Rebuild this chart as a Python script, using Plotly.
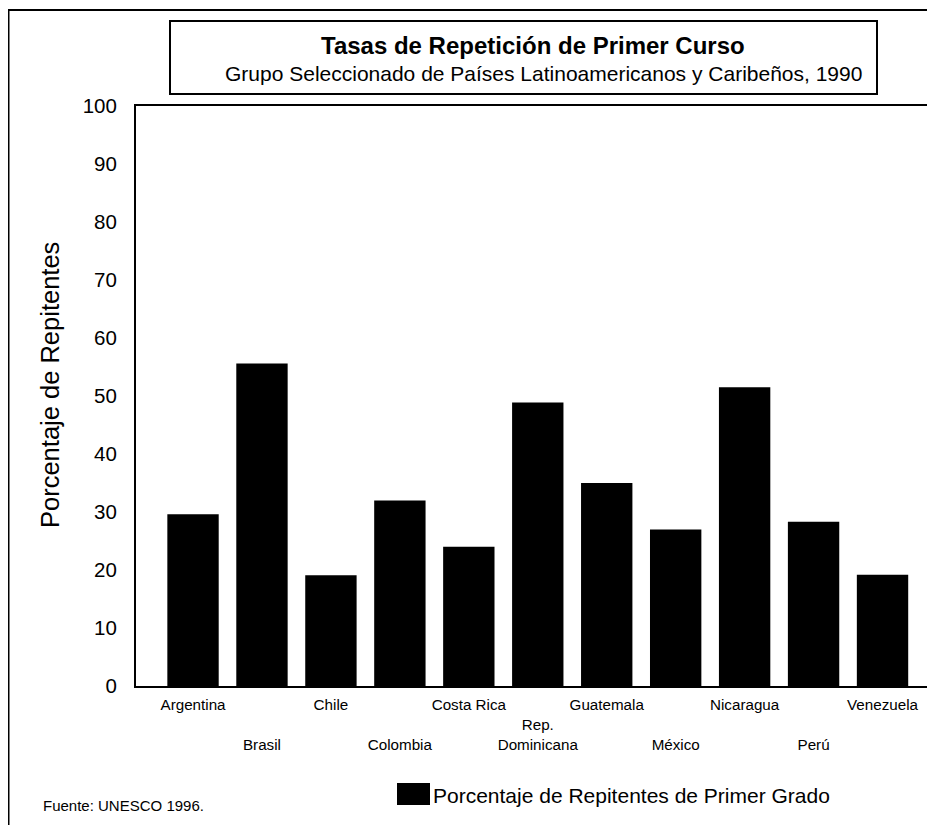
import plotly.graph_objects as go

countries = ["Argentina", "Brasil", "Chile", "Colombia", "Costa Rica", "Rep. Dominicana",
             "Guatemala", "México", "Nicaragua", "Perú", "Venezuela"]
tick_labels = ["Argentina", "<br><br>Brasil", "Chile", "<br><br>Colombia", "Costa Rica",
               "<br>Rep.<br>Dominicana", "Guatemala", "<br><br>México", "Nicaragua",
               "<br><br>Perú", "Venezuela"]
repetidores = [29.6, 55.6, 19.1, 32.0, 24.0, 48.9, 35.0, 27.0, 51.5, 28.3, 19.2]
y_ticks = [0, 10, 20, 30, 40, 50, 60, 70, 80, 90, 100]

title = "Tasas de Repetición de Primer Curso"
subtitle = "Grupo Seleccionado de Países Latinoamericanos y Caribeños, 1990"
y_title = "Porcentaje de Repitentes"
series_name = "Porcentaje de Repitentes de Primer Grado"
source = "Fuente: UNESCO 1996."

W, H = 935, 825
L, R, T, B = 128, 919, 98, 678
FONT = "Liberation Sans, Arial, sans-serif"


def px(x):
    return (x - L) / (R - L)


def py(y):
    return (B - y) / (B - T)


fig = go.Figure()
fig.add_trace(go.Bar(
    x=countries, y=repetidores, name=series_name,
    marker=dict(color="black", line=dict(color="black", width=0)),
    showlegend=True,
))

fig.update_layout(
    width=W, height=H,
    margin=dict(l=L, r=W - R, t=T, b=H - B, autoexpand=False),
    paper_bgcolor="white", plot_bgcolor="white",
    font=dict(family=FONT, color="black"),
    bargap=0.255,
    showlegend=True,
    legend=dict(orientation="h", x=px(385), y=py(787), xanchor="left", yanchor="middle",
                font=dict(size=21, family=FONT, color="black"), bgcolor="rgba(0,0,0,0)"),
)
fig.update_xaxes(
    type="category", range=[-0.827, 10.645],
    tickmode="array", tickvals=countries, ticktext=tick_labels,
    tickfont=dict(size=15.2, family=FONT, color="black"),
    showline=True, mirror=True, linecolor="black", linewidth=2,
    showgrid=False, ticks="", tickangle=0, ticklabelstandoff=4,
)
fig.update_yaxes(
    range=[0, 100], tickmode="array", tickvals=y_ticks,
    tickfont=dict(size=20.5, family=FONT, color="black"),
    showline=True, mirror=True, linecolor="black", linewidth=2,
    showgrid=False, zeroline=False, ticks="", ticklabelstandoff=13,
)

shapes = [
    # outer frame
    dict(type="rect", xref="paper", yref="paper", x0=px(0.5), x1=px(960), y0=py(2), y1=py(860),
         line=dict(color="black", width=2), fillcolor="rgba(0,0,0,0)", layer="below"),
    # title box
    dict(type="rect", xref="paper", yref="paper", x0=px(162), x1=px(869), y0=py(13), y1=py(86),
         line=dict(color="black", width=2), fillcolor="white"),
    # enlarged legend key behind the legend symbol
    dict(type="rect", xref="paper", yref="paper", x0=px(389), x1=px(422), y0=py(775), y1=py(797),
         line=dict(width=0), fillcolor="black", layer="above"),
]
fig.update_layout(shapes=shapes)

annotations = [
    dict(text="<b>" + title + "</b>", x=px(525), y=py(37), xref="paper", yref="paper",
         showarrow=False, font=dict(size=24, family=FONT), xanchor="center", yanchor="middle"),
    dict(text=subtitle, x=px(535), y=py(66), xref="paper", yref="paper",
         showarrow=False, font=dict(size=21, family=FONT), xanchor="center", yanchor="middle"),
    dict(text=y_title, x=px(42), y=py(377), xref="paper", yref="paper", textangle=-90,
         showarrow=False, font=dict(size=25.5, family=FONT), xanchor="center", yanchor="middle"),
    dict(text=source, x=px(33), y=py(797), xref="paper", yref="paper",
         showarrow=False, font=dict(size=15, family=FONT), xanchor="left", yanchor="middle"),
]
fig.update_layout(annotations=annotations)

fig.write_html("out.html")
